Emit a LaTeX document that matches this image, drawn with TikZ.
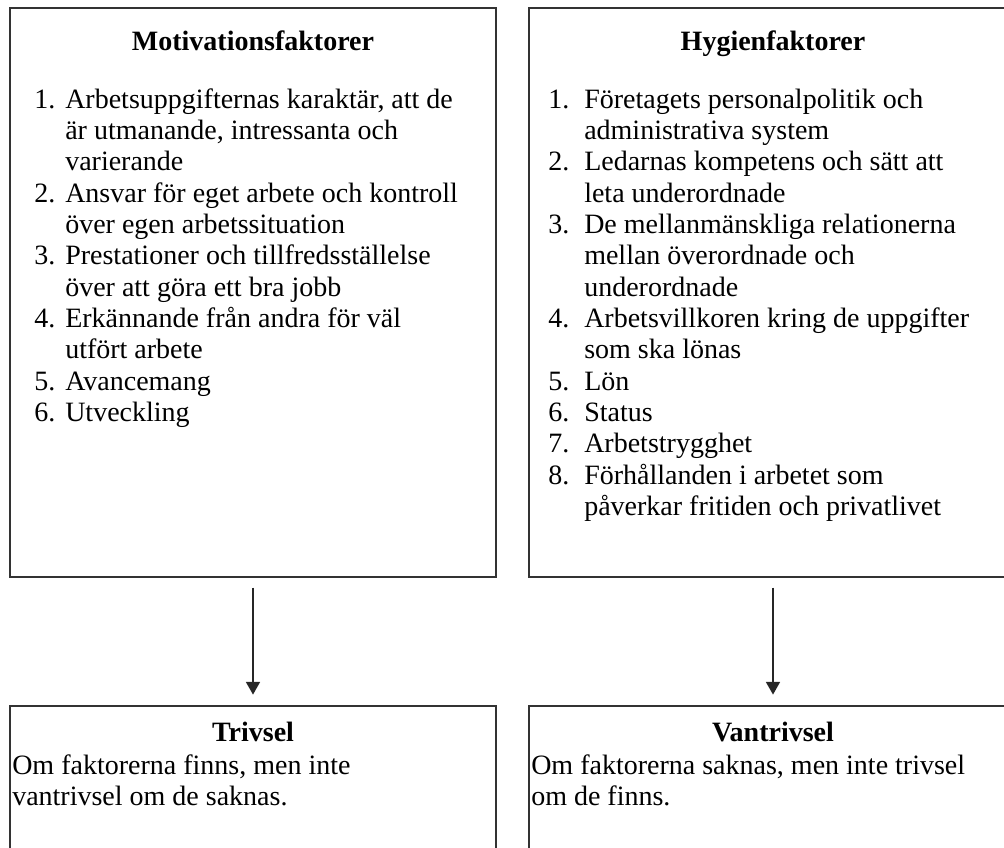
\documentclass[tikz,border=0pt]{standalone}
\usepackage{fontspec}
\setmainfont{Liberation Serif}
\usetikzlibrary{arrows.meta}

\begin{document}
\begin{tikzpicture}[x=0.75pt,y=-0.75pt]
		\tikzset{box/.style = {draw=black!80, line width=1.1pt, inner sep=0pt}}
		\tikzset{rubrik/.style = {inner sep=0pt, anchor=base, font=\fontsize{21}{23.5}\selectfont\bfseries}}
		\tikzset{lista/.style = {inner sep=0pt, anchor=base west, font=\fontsize{21}{23.5}\selectfont}}
		\tikzset{pil/.style = {-{Triangle[width=10.5pt,length=9.5pt]}, draw=black!85, line width=1.1pt, shorten <=7.5pt, shorten >=8pt}}
		
		\useasboundingbox (0,0) rectangle (1004,847);
		\clip (0,0) rectangle (1004,847);
		
		\node[box, minimum width=364.5pt, minimum height=426.75pt] (motiv)   at (253, 292.5) {};
		\node[box, minimum width=366pt,   minimum height=426.75pt] (hygien)  at (773, 292.5) {};
		\node[box, minimum width=364.5pt, minimum height=135pt]    (trivsel) at (253, 796) {};
		\node[box, minimum width=366pt,   minimum height=135pt]    (vantriv) at (773, 796) {};
		
		\node[rubrik] (motivrubrik)  at (253, 50) {Motivationsfaktorer};
		\node[rubrik] (hygienrubrik) at (773, 50) {Hygienfaktorer};
		
		\node[lista] (motivlista) at (34, 108) {%
			\begin{tabular}[t]{@{}p{23.25pt}@{}l@{}}
			1. & Arbetsuppgifternas karaktär, att de\\
			   & är utmanande, intressanta och\\
			   & varierande\\
			2. & Ansvar för eget arbete och kontroll\\
			   & över egen arbetssituation\\
			3. & Prestationer och tillfredsställelse\\
			   & över att göra ett bra jobb\\
			4. & Erkännande från andra för väl\\
			   & utfört arbete\\
			5. & Avancemang\\
			6. & Utveckling
			\end{tabular}};
		\node[lista] (hygienlista) at (548, 108) {%
			\begin{tabular}[t]{@{}p{27pt}@{}l@{}}
			1. & Företagets personalpolitik och\\
			   & administrativa system\\
			2. & Ledarnas kompetens och sätt att\\
			   & leta underordnade\\
			3. & De mellanmänskliga relationerna\\
			   & mellan överordnade och\\
			   & underordnade\\
			4. & Arbetsvillkoren kring de uppgifter\\
			   & som ska lönas\\
			5. & Lön\\
			6. & Status\\
			7. & Arbetstrygghet\\
			8. & Förhållanden i arbetet som\\
			   & påverkar fritiden och privatlivet
			\end{tabular}};
		
		\node[rubrik] (trivselrubrik) at (253, 741) {Trivsel};
		\node[rubrik] (vantrivrubrik) at (773, 741) {Vantrivsel};
		\node[lista] (trivseltext) at (12, 774) {%
			\begin{tabular}[t]{@{}l@{}}
			Om faktorerna finns, men inte\\
			vantrivsel om de saknas.
			\end{tabular}};
		\node[lista] (vantrivtext) at (531, 774) {%
			\begin{tabular}[t]{@{}l@{}}
			Om faktorerna saknas, men inte trivsel\\
			om de finns.
			\end{tabular}};
		
		\draw[pil] (motiv) to (trivsel);
		\draw[pil] (hygien) to (vantriv);
		\end{tikzpicture}
\end{document}
